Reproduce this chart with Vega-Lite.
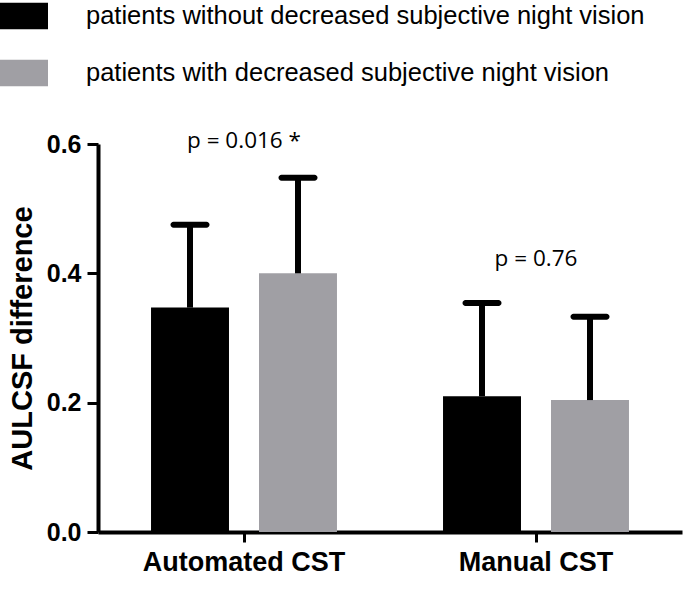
{
  "$schema": "https://vega.github.io/schema/vega-lite/v6.json",
  "width": 584,
  "height": 388,
  "autosize": {"type": "none"},
  "padding": {"left": 98, "top": 144, "right": 3, "bottom": 57},
  "background": "white",
  "config": {"view": {"stroke": null}, "axis": {"grid": false}},
  "datasets": {
    "bars": [
      {"group": "Automated CST", "status": "patients without decreased subjective night vision", "mean": 0.347, "upper": 0.475},
      {"group": "Automated CST", "status": "patients with decreased subjective night vision", "mean": 0.400, "upper": 0.548},
      {"group": "Manual CST", "status": "patients without decreased subjective night vision", "mean": 0.210, "upper": 0.354},
      {"group": "Manual CST", "status": "patients with decreased subjective night vision", "mean": 0.204, "upper": 0.333}
    ],
    "notes": [
      {"group": "Automated CST", "label": "p = 0.016 *", "ty": 0.594},
      {"group": "Manual CST", "label": "p = 0.76", "ty": 0.411}
    ]
  },
  "layer": [
    {
      "data": {"name": "bars"},
      "mark": {"type": "bar"},
      "encoding": {
        "x": {
          "field": "group", "type": "nominal",
          "scale": {"domain": ["Automated CST", "Manual CST"], "paddingInner": 0, "paddingOuter": 0},
          "axis": {
            "title": null, "labelAngle": 0, "labelLimit": 0,
            "labelFont": "Liberation Sans", "labelFontWeight": "bold", "labelFontSize": 27, "labelColor": "black",
            "tickColor": "black", "tickWidth": 3, "tickSize": 10,
            "domainColor": "black", "domainWidth": 4, "labelPadding": 7
          }
        },
        "xOffset": {
          "field": "status", "type": "nominal",
          "scale": {"domain": ["patients without decreased subjective night vision", "patients with decreased subjective night vision"], "paddingInner": 0.278, "paddingOuter": 0.491}
        },
        "y": {
          "field": "mean", "type": "quantitative",
          "scale": {"domain": [0, 0.6], "nice": false},
          "axis": {
            "values": [0, 0.2, 0.4, 0.6], "format": ".1f",
            "labelFont": "Liberation Sans", "labelFontWeight": "bold", "labelFontSize": 25, "labelColor": "black",
            "tickColor": "black", "tickWidth": 3, "tickSize": 11,
            "domainColor": "black", "domainWidth": 4, "labelPadding": 6,
            "title": "AULCSF difference", "titleFont": "Liberation Sans", "titleFontSize": 29,
            "titleFontWeight": "bold", "titleColor": "black", "titlePadding": 9
          }
        },
        "color": {
          "field": "status", "type": "nominal",
          "scale": {"domain": ["patients without decreased subjective night vision", "patients with decreased subjective night vision"], "range": ["#000000", "#a09fa4"]},
          "legend": {
            "orient": "none", "legendX": -98, "legendY": -152, "title": null,
            "symbolType": "M-1,-0.55L1,-0.55L1,0.55L-1,0.55Z", "symbolSize": 2304, "symbolStrokeWidth": 0,
            "labelFont": "Liberation Sans", "labelFontSize": 25.5, "labelColor": "black",
            "labelOffset": 38, "rowPadding": 19, "labelLimit": 0
          }
        }
      }
    },
    {
      "data": {"name": "bars"},
      "mark": {"type": "rule", "strokeWidth": 6, "color": "black"},
      "encoding": {
        "x": {"field": "group", "type": "nominal"},
        "xOffset": {"field": "status", "type": "nominal"},
        "y": {"field": "mean", "type": "quantitative"},
        "y2": {"field": "upper"}
      }
    },
    {
      "data": {"name": "bars"},
      "mark": {"type": "tick", "thickness": 6, "size": 39, "color": "black", "opacity": 1, "cornerRadius": 3},
      "encoding": {
        "x": {"field": "group", "type": "nominal"},
        "xOffset": {"field": "status", "type": "nominal"},
        "y": {"field": "upper", "type": "quantitative"}
      }
    },
    {
      "data": {"name": "notes"},
      "mark": {"type": "text", "font": "Open Sans", "fontSize": 22.5, "color": "black", "baseline": "alphabetic", "align": "center"},
      "encoding": {
        "x": {"field": "group", "type": "nominal"},
        "y": {"field": "ty", "type": "quantitative"},
        "text": {"field": "label"}
      }
    }
  ]
}
